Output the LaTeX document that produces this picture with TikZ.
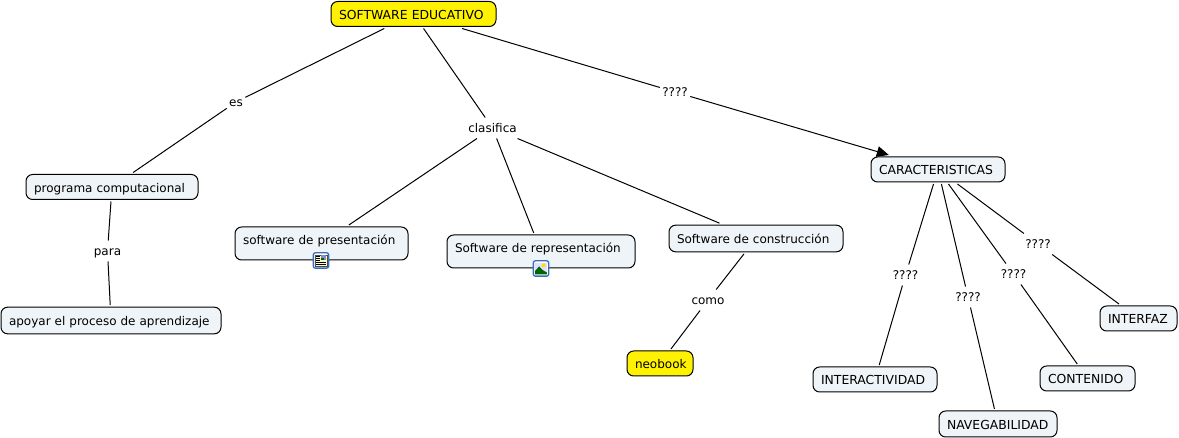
\documentclass[tikz,border=0pt]{standalone}
\usepackage{fontspec}
\setmainfont{DejaVu Sans}
\usetikzlibrary{arrows.meta}
\definecolor{nodefill}{RGB}{238,244,247}
\definecolor{iconblue}{RGB}{58,110,190}

\begin{document}
\begin{tikzpicture}[x=0.75pt, y=-0.75pt, >={Triangle[length=9pt, width=8pt]}, line width=0.75pt,
      concept/.style={draw, fill=nodefill, rounded corners=5pt, font=\fontsize{9}{11}\selectfont, align=left,
                  inner xsep=6pt, inner ysep=0pt, text height=8pt, text depth=0pt, minimum height=18.75pt, outer sep=1.5pt},
      focus/.style={concept, fill=yellow},
      capital/.style={font=\fontsize{9.3}{11}\selectfont},
      withicon/.style={text height=8pt, text depth=6pt, minimum height=24.75pt},
      phrase/.style={font=\fontsize{9}{11}\selectfont, inner xsep=1.5pt, inner ysep=0pt, text height=7pt, text depth=0pt, minimum height=15pt},
      icon/.style={draw=iconblue, fill=white, line width=1pt, rounded corners=1.5pt, minimum size=11.5pt, inner sep=0pt}]

    \useasboundingbox (0,0) rectangle (1179,438);

    % === Root ===
    \node[focus, capital, text width=111.75pt] (root) at (413.5,14) {SOFTWARE EDUCATIVO};

    % === Left branch ===
    \node[phrase] (es) at (236,102) {es};
    \node[concept, text width=117pt] (prog) at (112,187) {programa computacional};
    \node[phrase] (para) at (107.5,251) {para};
    \node[concept, text width=153pt, minimum height=20pt] (apoyar) at (111,320.5) {apoyar el proceso de aprendizaje};
    \draw (root) -- (es);
    \draw (es) -- (prog);
    \draw (prog) -- (para);
    \draw (para) -- (apoyar);

    % === Middle branch ===
    \node[phrase] (clasifica) at (492.5,128) {clasifica};
    \node[concept, withicon, text width=117.75pt] (pres) at (321.5,243.5) {software de presentación};
    \node[concept, withicon, text width=129pt] (repr) at (541,251.5) {Software de representación};
    \node[concept, text width=118.5pt, minimum height=20pt] (constr) at (756,238.5) {Software de construcción};
    \node[phrase] (como) at (708,300) {como};
    \node[focus, text width=37.5pt] (neobook) at (660,363.5) {neobook};
    \draw (root) -- (clasifica);
    \draw (clasifica) -- (pres);
    \draw (clasifica) -- (repr);
    \draw (clasifica) -- (constr);
    \draw (constr) -- (como);
    \draw (como) -- (neobook);

    % === Resource icons ===
    \node[icon] (docicon) at (321,260.5) {};
    \fill[yellow!20, draw=black!70, line width=0.25pt] ([shift={(-4.3pt,4.2pt)}]docicon.center) rectangle ([shift={(4.3pt,-4.2pt)}]docicon.center);
    \fill[blue!30!gray!70] ([shift={(0.3pt,4pt)}]docicon.center) rectangle ([shift={(4.1pt,0.3pt)}]docicon.center);
    \fill[green!40!black] ([shift={(0.3pt,1.8pt)}]docicon.center) rectangle ([shift={(2.4pt,0.3pt)}]docicon.center);
    \foreach \i in {-3,-1.5}
      \draw[line width=0.3pt] ([shift={(-3.4pt,\i pt)}]docicon.center) -- ([shift={(3.4pt,\i pt)}]docicon.center);
    \foreach \i in {0,1.5,3}
      \draw[line width=0.3pt] ([shift={(-3.4pt,\i pt)}]docicon.center) -- ([shift={(-0.4pt,\i pt)}]docicon.center);
    \node[icon] (picicon) at (541,268.5) {};
    \fill[blue!12] ([shift={(-4.4pt,4.4pt)}]picicon.center) rectangle ([shift={(4.4pt,-4.4pt)}]picicon.center);
    \fill[yellow!80!orange] ([shift={(2pt,2.4pt)}]picicon.center) circle (1.5pt);
    \fill[green!40!black] ([shift={(-4.4pt,-4.4pt)}]picicon.center) -- ([shift={(-4.4pt,-1.8pt)}]picicon.center)
      -- ([shift={(-1.4pt,1.6pt)}]picicon.center) -- ([shift={(1pt,-1pt)}]picicon.center) -- ([shift={(4.4pt,-3pt)}]picicon.center) -- ([shift={(4.4pt,-4.4pt)}]picicon.center) -- cycle;

    % === Right branch ===
    \node[phrase] (qroot) at (675,92) {????};
    \node[concept, capital, text width=88.5pt] (carac) at (938,169.5) {CARACTERISTICAS};
    \draw (root) -- (qroot);
    \draw[->] (qroot) -- (carac);

    \node[phrase] (qinter) at (905.5,275) {????};
    \node[phrase] (qnav) at (968,297) {????};
    \node[phrase] (qcont) at (1013.5,274) {????};
    \node[phrase] (qface) at (1038,244) {????};
    \node[concept, capital, text width=81pt] (inter) at (875,379.5) {INTERACTIVIDAD};
    \node[concept, capital, text width=76.5pt, minimum height=19.5pt] (nav) at (998,424) {NAVEGABILIDAD};
    \node[concept, capital, text width=59.25pt] (cont) at (1087.5,378.5) {CONTENIDO};
    \node[concept, capital, text width=45.75pt] (face) at (1138.5,318.5) {INTERFAZ};
    \draw (carac) -- (qinter);
    \draw (qinter) -- (inter);
    \draw (carac) -- (qnav);
    \draw (qnav) -- (nav);
    \draw (carac) -- (qcont);
    \draw (qcont) -- (cont);
    \draw (carac) -- (qface);
    \draw (qface) -- (face);

\end{tikzpicture}
\end{document}
